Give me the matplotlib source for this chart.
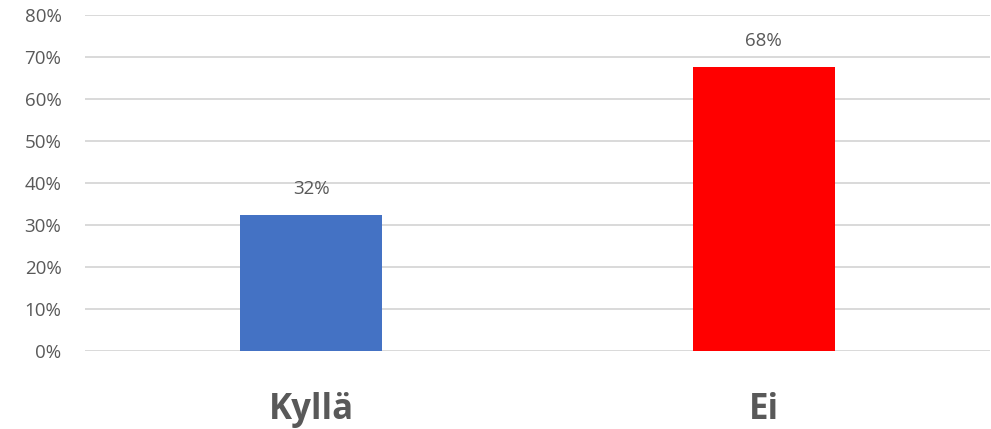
import matplotlib
matplotlib.use("Agg")
import matplotlib.pyplot as plt
from matplotlib.ticker import PercentFormatter

categories = ["Kyllä", "Ei"]
values = [0.324, 0.676]
labels = ["32%", "68%"]
colors = ["#4472C4", "#FF0000"]

plt.rcParams['font.family'] = ['Open Sans', 'DejaVu Sans']

fig = plt.figure(figsize=(9.91, 4.29), dpi=100)
ax = fig.add_axes([85/991, 1 - 350.7/429, (990 - 85)/991, (350.7 - 15)/429])

x = range(len(categories))
bars = ax.bar(x, values, width=0.314, color=colors, zorder=3)

ax.set_xlim(-0.5, 1.5)
ax.set_ylim(0, 0.8)
ax.set_yticks([i / 10 for i in range(9)])
ax.yaxis.set_major_formatter(PercentFormatter(1.0, decimals=0))
ax.grid(axis='y', color='#d9d9d9', linewidth=1.4, zorder=0)
ax.set_axisbelow(True)
for s in ax.spines.values():
    s.set_visible(False)
ax.tick_params(axis='y', length=0, pad=17, labelsize=13.5, labelcolor='#595959')
ax.set_xticks(list(x))
ax.set_xticklabels(categories, fontsize=25, fontweight='bold', color='#595959')
ax.tick_params(axis='x', length=0, pad=30)

for b, lab in zip(bars, labels):
    ax.annotate(lab, (b.get_x() + b.get_width() / 2, b.get_height()),
                xytext=(0, 12), textcoords='offset points',
                ha='center', va='bottom', fontsize=13.5, color='#595959')

fig.savefig("out.png", dpi=100, facecolor='white')
